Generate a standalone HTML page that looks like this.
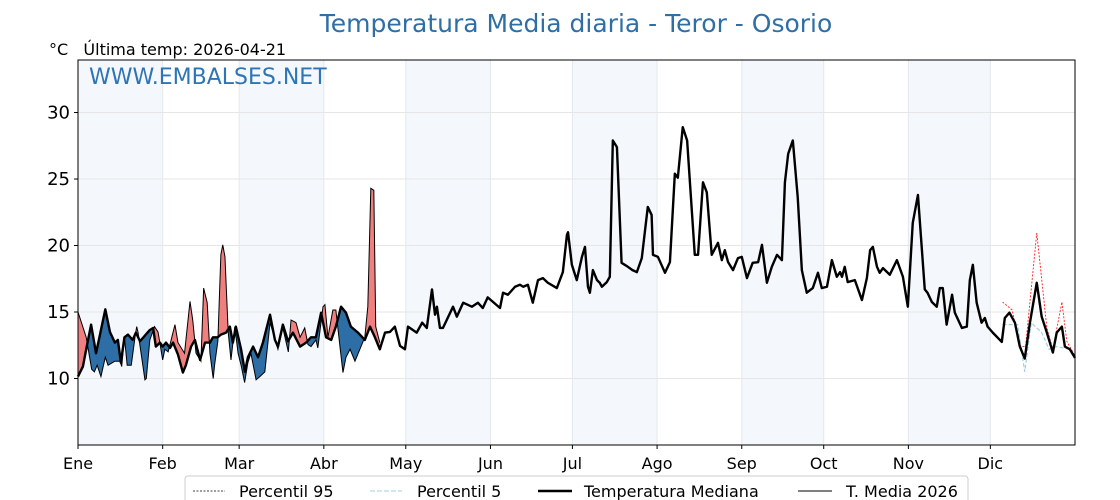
<!DOCTYPE html>
<html><head><meta charset="utf-8"><style>
body{margin:0;background:#fff;}
svg{display:block;font-family:"DejaVu Sans","Liberation Sans",sans-serif;}
</style></head><body>
<svg id="chart" width="1120" height="500" viewBox="0 0 1120 500">
<text x="576" y="32" text-anchor="middle" font-size="25" fill="#2f6fa6">Temperatura Media diaria - Teror - Osorio</text>
<text x="49" y="55" font-size="16" fill="#000" xml:space="preserve">°C   Última temp: 2026-04-21</text>
<g id="plot"></g>
<text x="89" y="84" font-size="22" fill="#2e75b6">WWW.EMBALSES.NET</text>
<g id="legend">
<rect x="185" y="476" width="783" height="30" rx="3" fill="#fff" stroke="#ccc"/>
<line x1="193" y1="491" x2="225" y2="491" stroke="#000" stroke-width="0.8" stroke-dasharray="2,1.5"/>
<text x="239" y="497" font-size="16">Percentil 95</text>
<line x1="370" y1="491" x2="402" y2="491" stroke="#9fd0e0" stroke-width="1" stroke-dasharray="5,2"/>
<text x="417" y="497" font-size="16">Percentil 5</text>
<line x1="538" y1="491" x2="572" y2="491" stroke="#000" stroke-width="2.5"/>
<text x="584" y="497" font-size="16">Temperatura Mediana</text>
<line x1="798" y1="491" x2="832" y2="491" stroke="#000" stroke-width="1"/>
<text x="846" y="497" font-size="16">T. Media 2026</text>
</g>
</svg>
<script>
const monthLabels=["Ene","Feb","Mar","Abr","May","Jun","Jul","Ago","Sep","Oct","Nov","Dic"];
const monthStarts=[0,31,59,90,120,151,181,212,243,273,304,334];
const yTicks=[10,15,20,25,30];
const medDays=[0,1.8,3,4.8,6.6,10,11.7,13.5,14.6,15.7,17,18.3,20,21.2,22.7,26.3,27.5,28.5,30,31,32.2,33.7,34.8,36.6,38.4,39.5,41.4,42.8,44.7,46.5,48.3,49.4,51.2,52.3,54.2,55.6,56.7,57.8,59.7,61.1,62.2,64.1,65.9,67.7,70.3,72.1,73.2,75,76.9,78.7,81.3,83.5,85.3,87.1,89,90.8,92.7,94.4,96.3,98.1,99.9,102.5,105,106.9,108.7,110.5,112.4,114.2,116,117.9,119.7,120.8,124,126,127.7,129.6,130.7,131.4,132.5,133.6,137.3,138.7,141,144.2,146.4,148.2,150,154.5,155.6,157.4,160,161.8,163,164.7,166.5,168.4,170.2,172,175.3,177.5,179,179.4,180.8,182.6,184.5,185.6,186.7,187.4,188.5,190,191,191.8,193.6,194.7,195.8,197.3,199,201.3,203,204.6,206.4,208.6,210,210.5,212.3,214.9,216.7,218.5,219.6,221.4,223,225.8,227,228.8,230.2,232,234.3,235.7,236.8,238,239.8,241.6,243,244.9,247,249,250.4,252.2,254,255.9,257.7,258.8,260,261.7,263.5,265,266.8,269,270.9,272.3,274.2,276,277.8,279,279.7,280.7,281.8,284.4,287,288.8,290,291,292.5,293.5,294.7,297.2,299.8,302,303.8,305.6,307.5,310,311,312.6,314.4,315.5,316.6,318,320,321,323.6,325.4,326.5,327.6,329,330.8,332,333,334.9,338.2,339.3,341,343,344.8,346.6,348.5,351,352.8,354.7,356.9,358.3,360.2,361.3,363.1,365];
const medVals=[10.15,10.9,12.2,14.05,11.9,15.2,13.5,12.7,12.9,11.2,13.1,13.3,12.9,13.45,12.8,13.65,13.8,12.4,12.7,12.4,12.7,12.3,12.7,11.8,10.45,11.0,12.4,12.9,11.4,12.7,12.7,13.1,13.1,13.3,13.45,13.9,12.7,13.9,12.2,10.5,11.6,12.4,11.6,12.7,14.8,12.9,12.4,14.05,12.8,13.45,12.4,12.7,13.1,13.1,14.95,13.1,12.9,13.9,15.4,14.95,13.9,13.45,12.9,13.9,13.1,12.2,13.45,13.5,13.9,12.45,12.2,13.9,13.45,14.2,13.8,16.7,14.8,15.4,13.8,13.8,15.4,14.65,15.7,15.4,15.7,15.3,16.1,15.3,16.45,16.3,16.9,17.05,16.9,17.05,15.7,17.4,17.55,17.2,16.8,18.0,20.8,21.0,18.55,17.4,19.15,19.9,16.9,16.45,18.15,17.4,17.2,16.9,17.25,17.65,27.9,27.4,18.7,18.4,18.15,18.0,19.05,22.9,22.3,19.3,19.15,17.95,18.75,25.4,25.1,28.9,27.9,19.3,19.3,24.75,24.0,19.3,20.2,18.9,19.65,18.75,18.15,19.05,19.15,17.55,18.7,18.75,20.05,17.2,18.4,19.3,18.9,24.75,26.9,27.9,23.6,18.15,16.45,16.8,17.95,16.8,16.9,18.9,17.65,18.0,17.65,18.4,17.25,17.4,15.9,17.55,19.65,19.9,18.4,17.95,18.3,17.8,18.9,17.65,15.4,21.7,23.8,16.7,16.45,15.75,15.4,16.8,16.8,14.05,16.3,14.95,13.8,13.9,17.4,18.55,15.7,14.2,14.55,13.9,13.45,12.75,14.55,14.95,14.2,12.4,11.5,14.2,17.2,14.65,13.45,11.95,13.45,13.9,12.4,12.2,11.55];
const curDays=[0,3,5,6,7,8.4,10,11,13.5,15.4,16,17,18,19.5,21,21.5,22,24.5,25,26.3,28,29.3,31,31.8,33,35.5,36.6,39,41,42,43.2,45,46,47.3,48.3,49.5,50,51.2,52.3,53,53.8,55,56,57.4,58.6,59.7,61,62.2,63.3,65.2,66.6,68.4,70.3,71.4,73.2,75,77,78,79.8,81.3,83,84.2,85.3,87.1,87.8,89.7,90.4,91.5,93.3,94.4,95.9,97,98.1,99.6,101.4,103.6,105,106.1,107.2,108.3,109,110.5];
const curVals=[15.0,13.1,10.7,10.5,11.0,10.15,11.6,11.0,11.3,11.3,10.9,13.1,11.0,11.0,13.3,13.9,13.45,9.9,10.0,12.9,13.9,13.5,11.4,12.2,12.0,14.05,12.7,11.9,15.8,14.4,11.9,11.3,16.8,15.7,11.9,10.0,11.0,12.8,19.3,20.05,19.15,13.45,11.4,13.9,11.9,11.0,9.7,11.2,11.9,9.9,10.15,10.5,14.2,13.45,12.2,13.8,12.0,14.4,14.2,13.1,13.8,12.55,12.4,12.9,12.3,15.4,15.55,13.1,15.15,15.15,12.4,10.45,11.6,12.2,11.3,12.4,13.1,15.4,24.3,24.15,13.9,12.7];
const p95Days=[338.5,342,344.8,346.9,351,354.7,356.9,360.2,362,365];
const p95Vals=[15.75,15.15,12.4,12.4,20.95,13.8,12.2,15.75,12.8,11.7];
const p5Days=[338.5,344,346.6,349,352.8,355.5,358.3,363.1,365];
const p5Vals=[14.05,14.05,10.5,14.2,13.45,12.2,12.4,12.2,11.55];

const X0=78,X1=1075,Y0=60,Y1=445,YMIN=5,YMAX=33.95;
const xs=d=>X0+d/365*(X1-X0);
const ys=v=>Y1-(v-YMIN)/(YMAX-YMIN)*(Y1-Y0);
const NS="http://www.w3.org/2000/svg";
const g=document.getElementById('plot');
function mk(tag,attrs,parent){const e=document.createElementNS(NS,tag);for(const k in attrs)e.setAttribute(k,attrs[k]);(parent||g).appendChild(e);return e;}
monthStarts.forEach((m,i)=>{
  if(i%2===0){const end=i<11?monthStarts[i+1]:365;
    const r=mk('rect',{x:xs(m),y:Y0,width:xs(end)-xs(m),height:Y1-Y0,fill:'#f4f8fc'});
    
    }
});
yTicks.forEach(t=>{
  const l=mk('line',{x1:X0,x2:X1,y1:ys(t),y2:ys(t),stroke:'#e6e6e6','stroke-width':1});
  
  
  mk('line',{x1:X0-4,x2:X0,y1:ys(t),y2:ys(t),stroke:'#000'});
  const tx=mk('text',{x:X0-8,y:ys(t)+6,'text-anchor':'end','font-size':18});
  tx.textContent=t;
  
  
});
monthStarts.forEach((m,i)=>{
  const l=mk('line',{x1:xs(m),x2:xs(m),y1:Y0,y2:Y1,stroke:'#e3e8ee','stroke-width':1});
  
  
  mk('line',{x1:xs(m),x2:xs(m),y1:Y1,y2:Y1+4,stroke:'#000'});
  const tx=mk('text',{x:xs(m),y:Y1+24,'text-anchor':'middle','font-size':16});
  tx.textContent=monthLabels[i];
  
  
});
function interp(ds,vs,d){if(d<=ds[0])return vs[0];for(let i=1;i<ds.length;i++){if(d<=ds[i]){const t=(d-ds[i-1])/(ds[i]-ds[i-1]);return vs[i-1]+t*(vs[i]-vs[i-1]);}}return vs[vs.length-1];}
const lastDay=curDays[curDays.length-1];
const grid=[];
new Set([...curDays,...medDays.filter(d=>d<lastDay)]).forEach(d=>grid.push(d));
grid.sort((a,b)=>a-b);
let run=[],sign=0;
function flush(){if(run.length<2){run=[];return;}
  const up=run.map(p=>xs(p[0])+','+ys(p[1])).join(' ');
  const dn=run.slice().reverse().map(p=>xs(p[0])+','+ys(p[2])).join(' ');
  const pg=mk('polygon',{points:up+' '+dn,fill:sign>0?'#f08080':'#2e6ea6'});
  
  
  run=[];}
for(let i=0;i<grid.length;i++){
  const d=grid[i],c=interp(curDays,curVals,d),m=interp(medDays,medVals,d),s=c-m>=0?1:-1;
  if(i>0&&s!==sign){const pd=grid[i-1],pc=interp(curDays,curVals,pd),pm=interp(medDays,medVals,pd);
    const a=pc-pm,b=c-m,t=a/(a-b),cd=pd+t*(d-pd),cv=pc+t*(c-pc);
    run.push([cd,cv,cv]);flush();run.push([cd,cv,cv]);}
  sign=s;run.push([d,c,m]);
}
flush();
function line(ds,vs,attrs,name){const p=mk('polyline',Object.assign({points:ds.map((d,i)=>xs(d)+','+ys(vs[i])).join(' '),fill:'none'},attrs));
  
  }
line(p5Days,p5Vals,{stroke:'#9fd0e0','stroke-width':1.2,'stroke-dasharray':'4,2'},'percentile-5-line');
line(p95Days,p95Vals,{stroke:'#ff2020','stroke-width':0.9,'stroke-dasharray':'2,1.5'},'percentile-95-line');
line(curDays,curVals,{stroke:'#000','stroke-width':1},'temp-2026-line');
line(medDays,medVals,{stroke:'#000','stroke-width':2.4,'stroke-linejoin':'round'},'median-line');
const fr=mk('rect',{x:X0,y:Y0,width:X1-X0,height:Y1-Y0,fill:'none',stroke:'#000','stroke-width':1});


</script>
</body></html>
